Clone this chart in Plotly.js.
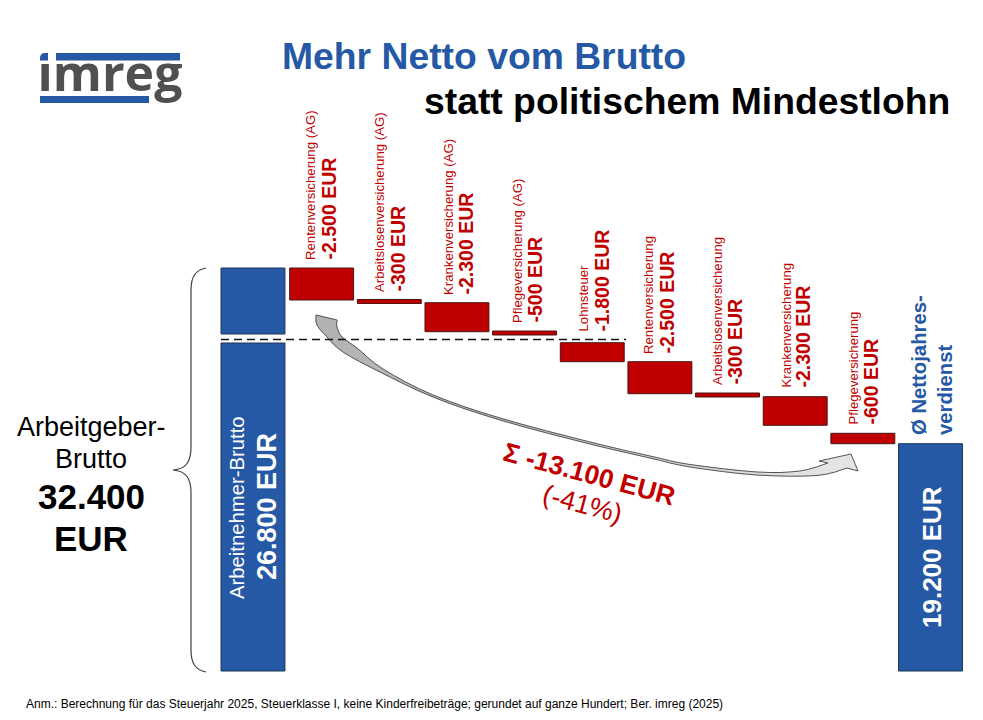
<!DOCTYPE html>
<html><head><meta charset="utf-8">
<script src="https://cdn.plot.ly/plotly-3.0.1.min.js"></script>
<style>html,body{margin:0;padding:0;background:#fff}#c{width:983px;height:720px}</style>
</head><body><div id="c"></div>
<script>
// ---- data (drawn extents in EUR on the chart's own axis) ----
const categories = ["Brutto","Rentenversicherung (AG)","Arbeitslosenversicherung (AG)","Krankenversicherung (AG)","Pflegeversicherung (AG)","Lohnsteuer","Rentenversicherung","Arbeitslosenversicherung","Krankenversicherung","Pflegeversicherung","Netto"];
const deductionNames = categories.slice(1,10);
const deductionLabels = ["-2.500 EUR","-300 EUR","-2.300 EUR","-500 EUR","-1.800 EUR","-2.500 EUR","-300 EUR","-2.300 EUR","-600 EUR"];
const deductionTops = [32400,29868,29610,27335,26394,24867,22350,22053,19110];
const deductionBottoms = [29828,29546,27279,27013,24867,22294,22029,19754,18275];
const blueCats = ["Brutto","Brutto","Netto"];
const blueTops = [32400,26370,18275];
const blueBottoms = [27094,0,0];

const BLUE="#2558A5", RED="#C00000", SANS="Liberation Sans, Arial, sans-serif";
const w=0.945;

const traces=[
 {type:"bar",x:blueCats,y:blueTops.map((t,i)=>t-blueBottoms[i]),base:blueBottoms,width:w,offset:[-0.4875,-0.4875,-0.4725],
  marker:{color:BLUE,line:{color:"#1D3557",width:1}},hoverinfo:"skip",showlegend:false},
 {type:"bar",x:deductionNames,y:deductionTops.map((t,i)=>t-deductionBottoms[i]),base:deductionBottoms,width:w,
  marker:{color:RED,line:{color:"#4A1414",width:1}},hoverinfo:"skip",showlegend:false},
 {type:"scatter",mode:"text",x:[110],y:[78],text:["imreg"],xaxis:"x2",yaxis:"y2",
  textfont:{family:"Open Sans, sans-serif",size:50,color:"#505050",weight:700},textposition:"middle center",
  hoverinfo:"skip",showlegend:false}
];

// annotation helper: pixel-axis positions
function t(text,x,y,o){return Object.assign({xref:"x2",yref:"y2",x:x,y:y,text:text,showarrow:false,
  xanchor:"center",yanchor:"middle",font:{family:SANS,size:13,color:"#000"}},o||{});}
function bold(s){return "<b>"+s+"</b>";}
const annotations=[
 t(bold("Mehr Netto vom Brutto"),483.5,56,{font:{family:SANS,size:37.3,color:BLUE}}),
 t(bold("statt politischem Mindestlohn"),687,101,{font:{family:SANS,size:37.3,color:"#000"}}),
 t("Anm.: Berechnung für das Steuerjahr 2025, Steuerklasse I, keine Kinderfreibeträge; gerundet auf ganze Hundert; Ber. imreg (2025)",24,704,{xanchor:"left",font:{family:SANS,size:12,color:"#000"}}),
 t("Arbeitgeber-",91,427,{font:{family:SANS,size:27,color:"#000"}}),
 t("Brutto",91,459,{font:{family:SANS,size:27,color:"#000"}}),
 t(bold("32.400"),91,496,{font:{family:SANS,size:35,color:"#000"}}),
 t(bold("EUR"),91,538,{font:{family:SANS,size:35,color:"#000"}}),
 t("Arbeitnehmer-Brutto",237,508,{textangle:-90,font:{family:SANS,size:20.3,color:"#fff"}}),
 t(bold("26.800 EUR"),267,507,{textangle:-90,font:{family:SANS,size:27,color:"#fff"}}),
 t(bold("19.200 EUR"),932,557,{textangle:-90,font:{family:SANS,size:26,color:"#fff"}}),
 t(bold("Ø Nettojahres-"),919,437,{textangle:-90,yanchor:"bottom",font:{family:SANS,size:20.3,color:BLUE}}),
 t(bold("verdienst"),945,437,{textangle:-90,yanchor:"bottom",font:{family:SANS,size:20.3,color:BLUE}}),
 t(bold("Σ -13.100 EUR"),589,474,{textangle:15,font:{family:SANS,size:26.5,color:RED}}),
 t("(-41%)",582,504,{textangle:15,font:{family:SANS,size:27,color:RED}})
];
const smallX=[310,379,448,517,583,648,717,786,853];
const boldX=[328.5,397.5,465.5,534.5,601.5,666.5,734.5,802.5,870.5];
const labelBottom=[262,294,297,325,334,356,387,390,427];
deductionNames.forEach((n,i)=>{
 annotations.push(t(n,smallX[i],labelBottom[i],{textangle:-90,yanchor:"bottom",font:{family:SANS,size:13.2,color:RED}}));
 annotations.push(t(bold(deductionLabels[i]),boldX[i],labelBottom[i],{textangle:-90,yanchor:"bottom",font:{family:SANS,size:19.5,color:RED}}));
});

// ---- decoration: sum arrow, brace, dashed line, logo bars (pixel axes) ----
function smooth(P,n){const o=[];for(let i=0;i<P.length-1;i++){const a=P[Math.max(i-1,0)],b=P[i],c=P[i+1],d=P[Math.min(i+2,P.length-1)];
 for(let k=0;k<n;k++){const s=k/n,s2=s*s,s3=s2*s;
  o.push([0,1].map(j=>0.5*(2*b[j]+(c[j]-a[j])*s+(2*a[j]-5*b[j]+4*c[j]-d[j])*s2+(3*b[j]-a[j]-3*c[j]+d[j])*s3)));}}
 o.push(P[P.length-1]);return o;}
const poly=(pts,close)=>"M"+pts.map(p=>p[0].toFixed(1)+","+p[1].toFixed(1)).join("L")+(close?"Z":"");
const shape=(path,o)=>Object.assign({type:"path",xref:"x2",yref:"y2",path:path,layer:"above",line:{width:0}},o);
const upper=[[337,320],[337,327],[342,337],[357,348],[383,369],[433,395],[500,418],[590,442],[650,456],[690,464.5],[757,472],[800,471],[828,463]];
const lower=[[316,315],[317,325],[327,337],[343,352],[380,372],[433,397],[500,420],[590,444],[650,458],[690,467],[757,475],[817,475.5],[847,468]];
const U=smooth(upper,4),L=smooth(lower,4);
const shapes=[];
for(let i=0;i<U.length-1;i++){const f=Math.min(1,(U[i][0]-316)/500),g=Math.round(176+f*52),c=`rgb(${g},${g},${g})`;
 shapes.push(shape(poly([U[i],U[i+1],L[i+1],L[i]],true),{fillcolor:c,line:{color:c,width:0.7}}));}
const head=[[828,463],[819,461],[851,454],[858,471],[847,468]];
shapes.push(shape(poly(head,true),{fillcolor:"rgb(228,228,228)"}));
shapes.push(shape(poly(L.slice().reverse().concat(U,head),true),{line:{color:"#555",width:1}}));
// dashed line between employer and employee gross
shapes.push({type:"line",xref:"x2",yref:"y2",x0:221,x1:626,y0:339.5,y1:339.5,layer:"above",line:{color:"#111",width:1.6,dash:"8px,5px"}});
// brace
shapes.push(shape("M206,268C196,270 191,276 191,290L191,447C191,462 186,469 173,470C186,471 191,478 191,493L191,650C191,664 196,670 206,672",{line:{color:"#404040",width:1.2}}));
// logo bars
shapes.push({type:"rect",xref:"x2",yref:"y2",x0:36,x1:54,y0:46,y1:63.5,layer:"above",line:{width:0},fillcolor:"#fff"});
shapes.push(shape("M48,53L48,60.5L40,60.5L40,58C40,55 42,53 45,53Z",{fillcolor:BLUE}));
shapes.push({type:"rect",xref:"x2",yref:"y2",x0:56,x1:180,y0:53,y1:60.5,layer:"above",line:{width:0},fillcolor:BLUE});
shapes.push({type:"rect",xref:"x2",yref:"y2",x0:40,x1:149,y0:96,y1:103,layer:"above",line:{width:0},fillcolor:BLUE});

const pitch=67.65, x0px=254, zeroY=671, perEUR=403/32400;
const layout={width:983,height:720,margin:{l:0,r:0,t:0,b:0},paper_bgcolor:"#fff",plot_bgcolor:"#fff",
 barmode:"overlay",showlegend:false,hovermode:false,
 xaxis:{type:"category",categoryorder:"array",categoryarray:categories,range:[-x0px/pitch,(983-x0px)/pitch],visible:false,fixedrange:true},
 yaxis:{range:[-(720-zeroY)/perEUR,zeroY/perEUR],visible:false,fixedrange:true},
 xaxis2:{range:[0,983],overlaying:"x",anchor:"y2",visible:false,fixedrange:true},
 yaxis2:{range:[720,0],overlaying:"y",anchor:"x2",visible:false,fixedrange:true},
 annotations:annotations,shapes:shapes};
Plotly.newPlot("c",traces,layout,{displayModeBar:false,staticPlot:true});
</script></body></html>
